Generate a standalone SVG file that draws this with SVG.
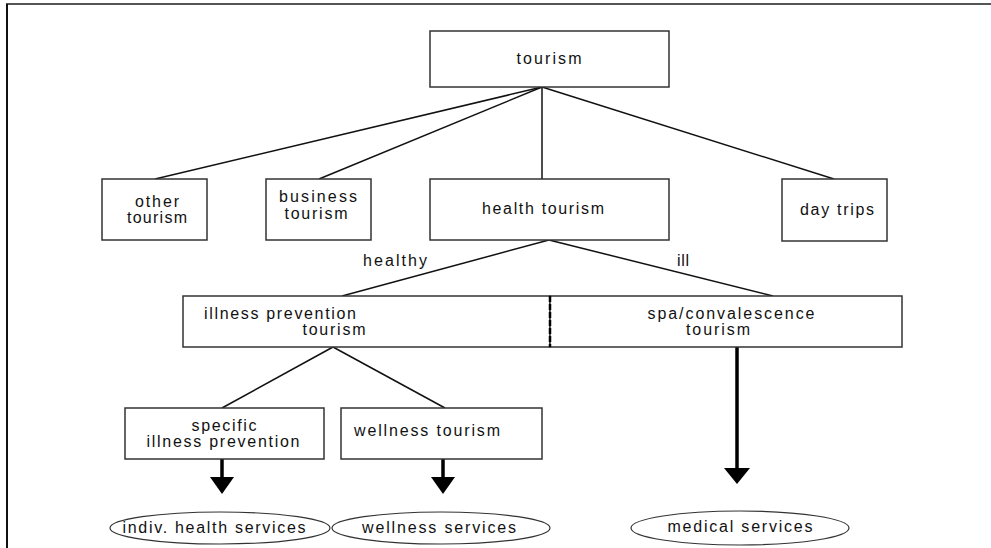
<svg xmlns="http://www.w3.org/2000/svg" width="991" height="548" viewBox="0 0 991 548">
<style>
.box{fill:#fff;stroke:#333;stroke-width:1.5}
.ell{fill:#fff;stroke:#333;stroke-width:1.2}
.ln{stroke:#111;stroke-width:1.5;fill:none}
.sh{stroke:#000;stroke-width:3.5;fill:none}
.hd{fill:#000}
text{font-family:"Liberation Sans",Arial,sans-serif;font-size:16px;fill:#111;text-anchor:middle}
</style>
<rect x="0" y="0" width="991" height="548" fill="#fff"/>
<g id="frame">
<line x1="6" y1="4" x2="991" y2="4" stroke="#555" stroke-width="2"/>
<line x1="7" y1="4" x2="7" y2="548" stroke="#111" stroke-width="2"/>
</g>
<g id="connectors">
<line class="ln" x1="542" y1="87" x2="155" y2="179"/>
<line class="ln" x1="542" y1="87" x2="319" y2="179"/>
<line class="ln" x1="542" y1="87" x2="542" y2="179"/>
<line class="ln" x1="542" y1="87" x2="834" y2="179"/>
<line class="ln" x1="549" y1="240" x2="342" y2="296"/>
<line class="ln" x1="549" y1="240" x2="773" y2="296"/>
<line class="ln" x1="333" y1="347" x2="222" y2="408"/>
<line class="ln" x1="333" y1="347" x2="445" y2="408"/>
<line class="sh" x1="222" y1="459" x2="222" y2="478"/>
<polygon class="hd" points="210,477 234,477 222,494"/>
<line class="sh" x1="443" y1="459" x2="443" y2="478"/>
<polygon class="hd" points="431,477 455,477 443,494"/>
<line class="sh" x1="737" y1="347" x2="737" y2="469"/>
<polygon class="hd" points="724,468 750,468 737,484"/>
<text x="395" y="266" textLength="64" lengthAdjust="spacing">healthy</text>
<text x="683" y="266" textLength="12" lengthAdjust="spacing">ill</text>
</g>
<g id="tourism">
<rect class="box" x="430" y="31" width="239" height="56"/>
<text x="549" y="64" textLength="65" lengthAdjust="spacing">tourism</text>
</g>
<g id="other-tourism">
<rect class="box" x="102" y="179" width="105" height="61"/>
<text x="157" y="207" textLength="44" lengthAdjust="spacing">other</text>
<text x="157" y="223" textLength="60" lengthAdjust="spacing">tourism</text>
</g>
<g id="business-tourism">
<rect class="box" x="266" y="179" width="105" height="61"/>
<text x="318" y="202" textLength="78" lengthAdjust="spacing">business</text>
<text x="316" y="219" textLength="63" lengthAdjust="spacing">tourism</text>
</g>
<g id="health-tourism">
<rect class="box" x="430" y="179" width="239" height="61"/>
<text x="543" y="214" textLength="122" lengthAdjust="spacing">health tourism</text>
</g>
<g id="day-trips">
<rect class="box" x="782" y="179" width="105" height="62"/>
<text x="837" y="215" textLength="74" lengthAdjust="spacing">day trips</text>
</g>
<g id="illness-prevention-tourism">
<rect class="box" x="183" y="296" width="367" height="51"/>
<text x="280" y="319" textLength="152" lengthAdjust="spacing">illness prevention</text>
<text x="334" y="335" textLength="63" lengthAdjust="spacing">tourism</text>
</g>
<g id="spa-convalescence-tourism">
<rect class="box" x="550" y="296" width="352" height="51"/>
<text x="731" y="319" textLength="167" lengthAdjust="spacing">spa/convalescence</text>
<text x="718" y="335" textLength="64" lengthAdjust="spacing">tourism</text>
</g>
<line id="divider" x1="550" y1="296" x2="550" y2="347" stroke="#000" stroke-width="2.5" stroke-dasharray="6,2"/>
<g id="specific-illness-prevention">
<rect class="box" x="125" y="408" width="199" height="51"/>
<text x="224" y="431" textLength="65" lengthAdjust="spacing">specific</text>
<text x="223" y="447" textLength="153" lengthAdjust="spacing">illness prevention</text>
</g>
<g id="wellness-tourism">
<rect class="box" x="341" y="408" width="201" height="51"/>
<text x="427" y="436" textLength="146" lengthAdjust="spacing">wellness tourism</text>
</g>
<g id="indiv-health-services">
<ellipse class="ell" cx="220" cy="528" rx="110" ry="16"/>
<text x="214" y="533" textLength="183" lengthAdjust="spacing">indiv. health services</text>
</g>
<g id="wellness-services">
<ellipse class="ell" cx="441" cy="528" rx="109" ry="16"/>
<text x="439" y="533" textLength="154" lengthAdjust="spacing">wellness services</text>
</g>
<g id="medical-services">
<ellipse class="ell" cx="740" cy="528" rx="109" ry="17"/>
<text x="740" y="532" textLength="145" lengthAdjust="spacing">medical services</text>
</g>
</svg>
